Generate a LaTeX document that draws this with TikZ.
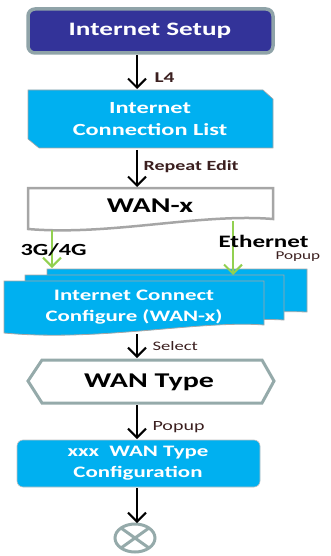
\documentclass[tikz,border=0pt]{standalone}
\usepackage{fontspec}
\setmainfont{Carlito}[FakeStretch=1.43]
\usetikzlibrary{arrows.meta,shapes.geometric,calc}
\definecolor{navy}{HTML}{333399}
\definecolor{setupgray}{HTML}{8FA3A8}
\definecolor{skyfill}{HTML}{00B0F0}
\definecolor{boxgray}{HTML}{A6A6A6}
\definecolor{hexgray}{HTML}{95AAAA}
\definecolor{arrowgreen}{HTML}{92D050}
\definecolor{labelbrown}{HTML}{3B1F1F}
\tikzset{
  flowarrow/.style={line width=2pt, draw=black, -{Straight Barb[length=9pt,width=18pt,line width=2pt]}},
  greenarrow/.style={line width=2pt, draw=arrowgreen, -{Straight Barb[length=9pt,width=18pt,line width=2pt]}},
  whitetext/.style={text=white, align=center, font=\bfseries\fontsize{16}{21}\selectfont},
  blacktext/.style={text=black, font=\bfseries\fontsize{21}{25}\selectfont},
  edgelabel/.style={anchor=west, text=labelbrown, font=\bfseries\fontsize{14}{16}\selectfont},
  optlabel/.style={anchor=west, text=black, font=\bfseries\fontsize{17}{19}\selectfont},
}
\begin{document}
\begin{tikzpicture}[x=1pt,y=-1pt]
\useasboundingbox (0,0) rectangle (331,556);

% Internet Setup
\draw[line width=3.5pt, draw=setupgray, fill=navy, rounded corners=7pt] (28,9) rectangle (273,53);
\node[whitetext, font=\bfseries\fontsize{19}{23}\selectfont] (setup) at (150,31) {Internet Setup};

% Internet Connection List
\draw[draw=boxgray, line width=0.6pt, fill=skyfill] (28,90) -- (263,90) -- (273,99) -- (273,148) -- (39,148) -- (28,139) -- cycle;
\node[whitetext, font=\bfseries\fontsize{17}{22}\selectfont] (list) at (150,119) {Internet\\Connection List};

% WAN-x document
\draw[line width=2.5pt, draw=boxgray, fill=white] (28,188) -- (273,188) -- (273,219) .. controls (200,213) and (110,236) .. (28,229) -- cycle;
\node[blacktext] (wanx) at (150,206) {WAN-x};

% stacked Internet Connect Configure
\draw[draw=boxgray, line width=0.8pt, fill=skyfill] (47,269) -- (307,269) -- (307,312) .. controls (250,310) and (200,318) .. (150,316) -- (47,316) -- cycle;
\draw[draw=boxgray, line width=0.8pt, fill=skyfill] (25,275) -- (284,275) -- (284,320) .. controls (230,317) and (150,326) .. (25,324) -- cycle;
\draw[draw=boxgray, line width=0.8pt, fill=skyfill] (4,281) -- (264,281) -- (264,325) .. controls (200,320) and (100,342) .. (4,333) -- cycle;
\node[whitetext] (config) at (134,307) {Internet Connect\\Configure (WAN-x)};

% WAN Type hexagon
\draw[line width=3pt, draw=hexgray, fill=white] (28,381) -- (42,360) -- (262,360) -- (274,381) -- (262,403) -- (42,403) -- cycle;
\node[blacktext] (wantype) at (149,382) {WAN Type};

% xxx WAN Type Configuration
\draw[draw=boxgray!70, line width=0.6pt, fill=skyfill, rounded corners=6pt] (17,440) rectangle (260,487);
\node[whitetext] (typeconf) at (138,463) {xxx\ \ WAN Type\\Configuration};

% end symbol
\node[draw=hexgray, line width=3pt, ellipse, minimum width=40pt, minimum height=28pt, inner sep=0pt] (stop) at (135,538) {};
\draw[line width=3pt, draw=hexgray] ($(stop.center)+(-14,-10)$) -- ($(stop.center)+(14,10)$);
\draw[line width=3pt, draw=hexgray] ($(stop.center)+(-14,10)$) -- ($(stop.center)+(14,-10)$);

% coordinates for connectors
\coordinate (a1s) at (137,55);
\coordinate (a1e) at (137,89);
\coordinate (a2s) at (137,150);
\coordinate (a2e) at (137,187);
\coordinate (g1s) at (52,230);
\coordinate (g1e) at (52,268);
\coordinate (g2s) at (233,221);
\coordinate (g2e) at (233,275);
\coordinate (a3s) at (137,334);
\coordinate (a3e) at (137,358);
\coordinate (a4s) at (137,405);
\coordinate (a4e) at (137,439);
\coordinate (a5s) at (137,488);
\coordinate (a5e) at (137,523);

\draw[flowarrow] (a1s) -- (a1e);
\draw[flowarrow] (a2s) -- (a2e);
\draw[greenarrow] (g1s) -- (g1e);
\draw[greenarrow] (g2s) -- (g2e);
\draw[flowarrow] (a3s) -- (a3e);
\draw[flowarrow] (a4s) -- (a4e);
\draw[flowarrow] (a5s) -- (a5e);

% labels
\node[optlabel, text=labelbrown, font=\bfseries\fontsize{15}{17}\selectfont] (l4) at (151,78) {L4};
\node[edgelabel] (repeat) at (140,167) {Repeat Edit};
\node[optlabel] (g3) at (17,250) {3G/4G};
\node[optlabel, font=\bfseries\fontsize{17.5}{19}\selectfont] (eth) at (215,241) {Ethernet};
\node[edgelabel, font=\fontsize{12}{14}\selectfont] (popup1) at (272,257) {Popup};
\node[edgelabel, font=\fontsize{13}{15}\selectfont] (select) at (149,346) {Select};
\node[edgelabel, font=\fontsize{14}{16}\selectfont] (popup2) at (149,427) {Popup};
\end{tikzpicture}
\end{document}
